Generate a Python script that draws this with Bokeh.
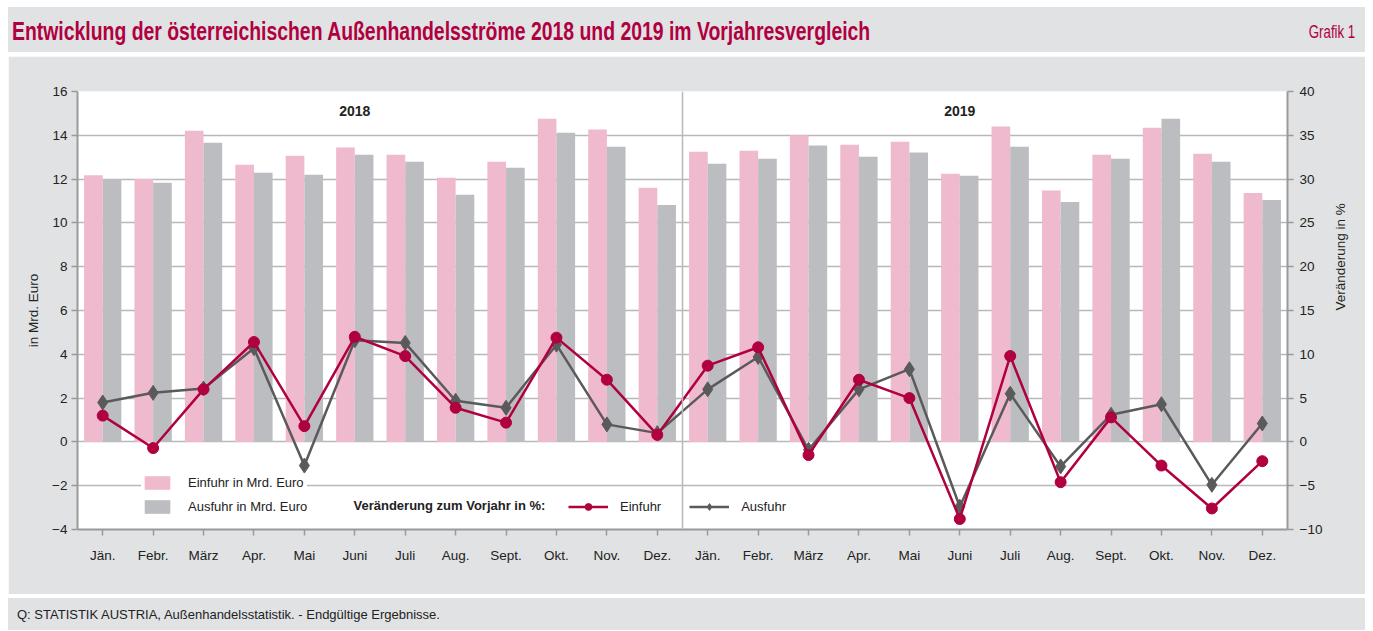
import math
from bokeh.plotting import figure
from bokeh.models import (Range1d, LinearAxis, FixedTicker, Legend, LegendItem,
                          Label, Span, Div, ColumnDataSource)
from bokeh.layouts import column
from bokeh.embed import file_html
from bokeh.resources import INLINE

# ---------------- data ----------------
months = ["Jän.", "Febr.", "März", "Apr.", "Mai", "Juni", "Juli", "Aug.", "Sept.", "Okt.", "Nov.", "Dez."]
tick_labels = months + months
years = ["2018", "2019"]

einfuhr_mrd = [12.18, 12.00, 14.21, 12.66, 13.07, 13.44, 13.11, 12.06, 12.79, 14.76, 14.26, 11.60,
               13.25, 13.30, 14.00, 13.57, 13.71, 12.24, 14.40, 11.48, 13.11, 14.35, 13.16, 11.37]
ausfuhr_mrd = [12.00, 11.83, 13.66, 12.29, 12.20, 13.11, 12.79, 11.28, 12.52, 14.12, 13.48, 10.82,
               12.70, 12.93, 13.53, 13.02, 13.21, 12.15, 13.48, 10.96, 12.93, 14.76, 12.79, 11.05]
einfuhr_pct = [3.0, -0.7, 6.0, 11.4, 1.8, 12.0, 9.8, 3.9, 2.2, 11.9, 7.1, 0.8,
               8.7, 10.8, -1.5, 7.1, 5.0, -8.8, 9.8, -4.6, 2.8, -2.7, -7.6, -2.2]
ausfuhr_pct = [4.5, 5.6, 6.1, 10.7, -2.7, 11.6, 11.3, 4.7, 3.9, 11.1, 2.0, 1.0,
               6.0, 9.7, -0.9, 6.0, 8.3, -7.4, 5.5, -2.8, 3.1, 4.3, -4.9, 2.1]

# ---------------- style ----------------
FONT = "Liberation Sans"
BG = "#e1e2e4"
PINK = "#efb9ce"
GREY_BAR = "#bcbdc1"
RED = "#b0003f"
GREY_LINE = "#5a5a5a"
AXIS = "#9a9a9a"
GRID = "#b8b8b8"
TXT = "#222222"
W = 1357

n = len(tick_labels)
xc = [i + 0.5 for i in range(n)]
bw = 0.37
src = ColumnDataSource(dict(
    xc=xc,
    xp=[x - bw / 2 for x in xc],
    xg=[x + bw / 2 for x in xc],
    ein=einfuhr_mrd, aus=ausfuhr_mrd,
    ein_p=einfuhr_pct, aus_p=ausfuhr_pct,
))

p = figure(width=W, height=538, x_range=Range1d(0, n), y_range=Range1d(-4, 16),
           output_backend="svg", toolbar_location=None, margin=0,
           min_border_left=69, min_border_right=78, min_border_top=35, min_border_bottom=65,
           border_fill_color=BG, background_fill_color="white", outline_line_color=None)
p.extra_y_ranges = {"pct": Range1d(-10, 40)}

# grid
p.xgrid.grid_line_color = None
p.ygrid.grid_line_color = GRID
p.ygrid.grid_line_width = 1.5
p.yaxis.ticker = FixedTicker(ticks=list(range(-4, 17, 2)))

# bars
r_pink = p.vbar(x="xp", top="ein", bottom=0, width=bw, source=src, fill_color=PINK, line_color=None)
r_grey = p.vbar(x="xg", top="aus", bottom=0, width=bw, source=src, fill_color=GREY_BAR, line_color=None)

# separator
p.add_layout(Span(location=n / 2, dimension="height", line_color=GRID, line_width=1.5))

# lines
r_gl = p.line("xc", "aus_p", source=src, y_range_name="pct", line_color=GREY_LINE, line_width=2.5)
r_gm = p.scatter("xc", "aus_p", source=src, y_range_name="pct", marker="diamond", size=15,
                 fill_color=GREY_LINE, line_color=GREY_LINE)
r_rl = p.line("xc", "ein_p", source=src, y_range_name="pct", line_color=RED, line_width=2.5)
r_rm = p.scatter("xc", "ein_p", source=src, y_range_name="pct", marker="circle", size=11,
                 fill_color=RED, line_color=RED)

# axes
def style_axis(ax):
    ax.axis_line_color = AXIS
    ax.axis_line_width = 2
    ax.major_tick_line_color = AXIS
    ax.major_tick_line_width = 1.5
    ax.major_tick_in = 0
    ax.major_tick_out = 6
    ax.minor_tick_line_color = None
    ax.major_label_text_font = FONT
    ax.major_label_text_font_size = "13.5px"
    ax.major_label_text_color = TXT
    ax.axis_label_text_font = FONT
    ax.axis_label_text_font_size = "13.5px"
    ax.axis_label_text_font_style = "normal"
    ax.axis_label_text_color = TXT

yl = p.yaxis[0]
style_axis(yl)
yl.axis_label = "in Mrd. Euro"
yl.major_label_standoff = 4
yl.axis_label_standoff = 8

xa = p.xaxis[0]
style_axis(xa)
xa.ticker = FixedTicker(ticks=xc)
xa.major_label_overrides = {x: lab for x, lab in zip(xc, tick_labels)}
xa.major_label_standoff = 12

yr = LinearAxis(y_range_name="pct", ticker=FixedTicker(ticks=list(range(-10, 41, 5))),
                axis_label="Veränderung in %")
style_axis(yr)
yr.major_label_standoff = 6
yr.axis_label_standoff = 15
yr.axis_label_orientation = math.pi / 2
p.add_layout(yr, "right")

# year labels
for i, yv in enumerate(years):
    p.add_layout(Label(x=5.5 + 12 * i, y=15.13, text=yv, text_align="center", text_baseline="middle",
                       text_font=FONT, text_font_size="14px", text_font_style="bold",
                       text_color=TXT))

# legends
legA = Legend(items=[LegendItem(label="Einfuhr in Mrd. Euro", renderers=[r_pink]),
                     LegendItem(label="Ausfuhr in Mrd. Euro", renderers=[r_grey])],
              location=(64, 14), orientation="vertical",
              glyph_width=32, glyph_height=17, label_standoff=15, spacing=7, padding=5, margin=0,
              border_line_color=None, background_fill_color="white", background_fill_alpha=1,
              label_text_font=FONT, label_text_font_size="13px", label_text_color=TXT)
p.add_layout(legA)

legB = Legend(items=[LegendItem(label="Einfuhr", renderers=[r_rl, r_rm]),
                     LegendItem(label="Ausfuhr", renderers=[r_gl, r_gm])],
              location=(491, 14), orientation="horizontal",
              glyph_width=40, glyph_height=17, label_standoff=12, spacing=28, padding=0, margin=0,
              border_line_color=None, background_fill_alpha=0,
              label_text_font=FONT, label_text_font_size="13px", label_text_color=TXT)
p.add_layout(legB)

p.add_layout(Label(x=276, y=24, x_units="screen", y_units="screen",
                   text="Veränderung zum Vorjahr in %:", text_baseline="middle",
                   text_font=FONT, text_font_size="13px", text_font_style="bold",
                   text_color=TXT))

title_html = (
    f'<div style="position:relative;width:{W}px;height:45px;background:{BG};overflow:hidden;'
    f'font-family:\'{FONT}\';white-space:nowrap;">'
    f'<span style="position:absolute;left:4px;top:7px;display:inline-block;color:{RED};font-size:25px;'
    'font-weight:bold;transform:scaleX(0.776);transform-origin:left center;">'
    'Entwicklung der österreichischen Außenhandelsströme 2018 und 2019 im Vorjahresvergleich</span>'
    f'<span style="position:absolute;right:10px;top:13px;display:inline-block;color:{RED};font-size:17.5px;'
    'transform:scaleX(0.76);transform-origin:right center;">Grafik 1</span></div>'
)
title_div = Div(text=title_html, width=W, height=45, margin=0)

foot_html = (
    f'<div style="position:relative;width:{W}px;height:32px;background:{BG};overflow:hidden;'
    f'font-family:\'{FONT}\';font-size:13px;color:{TXT};white-space:nowrap;">'
    '<span style="position:absolute;left:9px;top:8px;">'
    'Q: STATISTIK AUSTRIA, Außenhandelsstatistik. - Endgültige Ergebnisse.</span></div>'
)
foot_div = Div(text=foot_html, width=W, height=32, margin=0)

layout = column(title_div, p, foot_div, spacing=4, margin=(7, 0, 0, 8))

with open("out.html", "w") as f:
    f.write(file_html(layout, INLINE))
